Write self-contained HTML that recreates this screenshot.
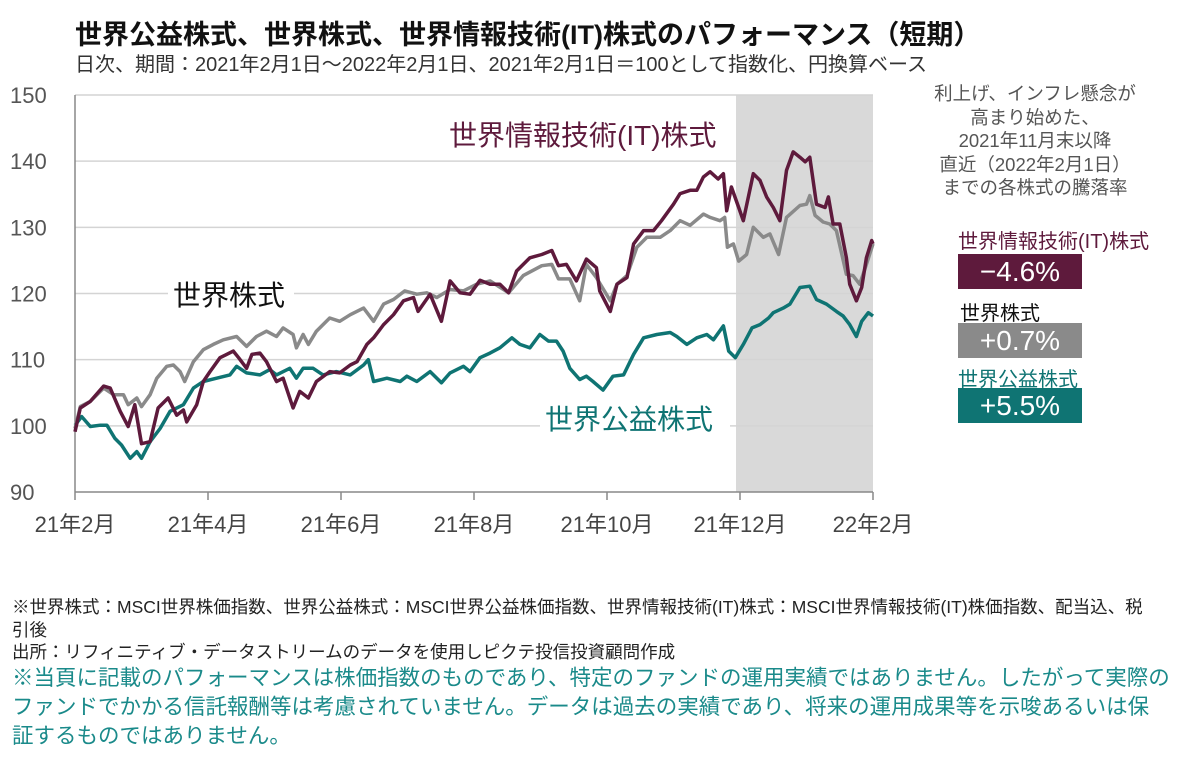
<!DOCTYPE html>
<html><head><meta charset="utf-8"><style>
body{margin:0;width:1200px;height:776px;background:#fff;overflow:hidden;font-family:"Liberation Sans","Noto Sans CJK JP",sans-serif;}
svg{position:absolute;left:0;top:0}
.t{position:absolute;white-space:nowrap}
</style></head><body>
<div class="t" style="left:75px;top:13px;font-size:27px;font-weight:bold;color:#111">世界公益株式、世界株式、世界情報技術(IT)株式のパフォーマンス（短期）</div>
<div class="t" style="left:75px;top:48px;font-size:20px;color:#333">日次、期間：2021年2月1日～2022年2月1日、2021年2月1日＝100として指数化、円換算ベース</div>
<svg id="chart" width="1200" height="776"></svg>
<div class="t" style="left:925px;top:82px;width:220px;text-align:center;font-size:18.5px;line-height:23.5px;color:#555">利上げ、インフレ懸念が<br>高まり始めた、<br>2021年11月末以降<br>直近（2022年2月1日）<br>までの各株式の騰落率</div>
<div class="t" style="left:958px;top:225px;font-size:20px;color:#5e1a3c">世界情報技術(IT)株式</div>
<div class="t" style="left:958px;top:254px;width:124px;height:35px;background:#5e1a3c;color:#fff;font-size:28px;line-height:35px;text-align:center">−4.6%</div>
<div class="t" style="left:960px;top:297px;font-size:20px;color:#111">世界株式</div>
<div class="t" style="left:958px;top:323px;width:124px;height:35px;background:#8a8a8a;color:#fff;font-size:28px;line-height:35px;text-align:center">+0.7%</div>
<div class="t" style="left:958px;top:363px;font-size:20px;color:#0f7473">世界公益株式</div>
<div class="t" style="left:958px;top:388px;width:124px;height:35px;background:#0f7473;color:#fff;font-size:28px;line-height:35px;text-align:center">+5.5%</div>
<div class="t" style="left:12px;top:596px;font-size:17.5px;line-height:22.5px;color:#222">※世界株式：MSCI世界株価指数、世界公益株式：MSCI世界公益株価指数、世界情報技術(IT)株式：MSCI世界情報技術(IT)株価指数、配当込、税<br>引後<br>出所：リフィニティブ・データストリームのデータを使用しピクテ投信投資顧問作成</div>
<div class="t" style="left:12px;top:664px;font-size:21.5px;line-height:29px;color:#1a8a8a">※当頁に記載のパフォーマンスは株価指数のものであり、特定のファンドの運用実績ではありません。したがって実際の<br>ファンドでかかる信託報酬等は考慮されていません。データは過去の実績であり、将来の運用成果等を示唆あるいは保<br>証するものではありません。</div>
<script>
const yTicks=[90,100,110,120,130,140,150];
const xTickLabels=["21年2月","21年4月","21年6月","21年8月","21年10月","21年12月","22年2月"];
const xTickMonths=[0,2,4,6,8,10,12];
const itT=[0,.08,.23,.43,.53,.68,.80,.90,1.00,1.13,1.25,1.40,1.53,1.63,1.68,1.83,1.93,2.03,2.18,2.28,2.38,2.46,2.58,2.66,2.78,2.88,3.03,3.13,3.28,3.38,3.51,3.63,3.83,3.98,4.14,4.24,4.39,4.49,4.64,4.79,4.94,5.09,5.16,5.34,5.51,5.64,5.79,5.94,6.09,6.24,6.39,6.52,6.64,6.84,7.02,7.17,7.27,7.39,7.54,7.69,7.84,7.89,8.05,8.15,8.30,8.40,8.55,8.70,8.82,9.00,9.10,9.25,9.35,9.45,9.55,9.67,9.75,9.80,9.87,9.98,10.05,10.20,10.30,10.40,10.50,10.60,10.70,10.80,10.90,10.98,11.05,11.15,11.28,11.33,11.40,11.50,11.60,11.65,11.75,11.83,11.90,11.98,12.00];
const itV=[99.1,102.7,103.7,106.0,105.7,102.2,99.9,103.2,97.3,97.6,102.7,104.2,101.6,102.4,100.6,103.2,106.7,108.2,110.3,110.8,111.3,110.3,108.7,110.8,111.0,109.7,106.7,107.2,102.7,105.2,104.2,106.7,108.2,108.0,109.2,109.7,112.3,113.3,115.3,116.8,118.9,119.4,117.3,119.9,115.8,121.9,120.1,119.9,122.0,121.4,121.4,120.1,123.4,125.4,125.9,126.5,124.2,124.4,121.9,125.2,123.9,120.4,117.3,121.4,122.4,127.5,129.5,129.5,131.0,133.5,135.1,135.6,135.6,137.6,138.4,137.3,138.1,132.5,136.1,133.0,131.0,138.1,137.1,134.6,133.0,131.0,138.6,141.4,140.6,139.9,140.6,133.5,133.0,134.6,130.5,130.5,125.4,121.4,118.9,120.9,125.4,128.0,127.5];
const worldT=[0,.08,.23,.43,.58,.73,.80,.93,1.00,1.13,1.23,1.38,1.48,1.58,1.65,1.78,1.93,2.08,2.23,2.43,2.58,2.73,2.88,3.03,3.13,3.28,3.33,3.43,3.51,3.63,3.83,3.98,4.14,4.34,4.49,4.64,4.79,4.96,5.14,5.29,5.44,5.64,5.84,6.04,6.24,6.52,6.74,7.02,7.17,7.27,7.44,7.59,7.69,7.84,8.05,8.15,8.30,8.45,8.60,8.80,8.95,9.10,9.25,9.45,9.55,9.70,9.77,9.81,9.90,9.98,10.10,10.20,10.35,10.45,10.58,10.70,10.90,11.00,11.05,11.13,11.25,11.35,11.45,11.60,11.70,11.80,11.90,12.00];
const worldV=[99.6,102.9,103.7,105.7,104.7,104.7,103.2,104.2,102.9,104.7,107.2,109.0,109.2,108.2,106.7,109.7,111.5,112.3,113.0,113.5,112.0,113.5,114.3,113.5,114.8,113.8,111.8,113.8,112.3,114.3,116.3,115.8,116.8,117.8,115.8,118.4,119.1,120.4,119.9,120.1,119.4,120.6,120.4,121.4,121.9,120.1,122.7,124.2,124.4,122.2,122.2,118.9,124.4,122.4,118.9,121.4,122.7,127.0,128.5,128.5,129.5,131.0,130.3,132.0,131.5,131.0,131.5,127.0,127.5,124.9,125.9,130.0,128.5,129.0,125.9,131.5,133.3,133.5,134.8,131.8,130.8,130.5,129.5,122.9,122.7,121.4,124.4,127.5];
const utilT=[0,.10,.23,.38,.48,.60,.70,.83,.93,1.00,1.13,1.28,1.43,1.63,1.78,1.93,2.13,2.33,2.43,2.58,2.78,2.93,3.03,3.23,3.33,3.43,3.58,3.73,3.93,4.14,4.34,4.41,4.49,4.69,4.89,4.99,5.14,5.34,5.51,5.64,5.84,5.94,6.09,6.24,6.39,6.57,6.69,6.84,6.99,7.12,7.24,7.34,7.44,7.59,7.69,7.79,7.94,8.09,8.25,8.40,8.55,8.75,8.95,9.05,9.20,9.35,9.50,9.60,9.75,9.83,9.93,10.05,10.18,10.30,10.43,10.50,10.65,10.75,10.90,11.05,11.15,11.30,11.45,11.55,11.65,11.75,11.83,11.93,12.00];
const utilV=[100.1,101.4,99.9,100.1,100.1,98.1,97.1,95.1,96.1,95.1,97.6,99.6,102.2,103.2,105.7,106.7,107.2,107.7,109.0,108.0,107.7,108.5,107.7,108.7,107.2,108.7,108.7,107.7,108.2,107.7,109.2,110.0,106.7,107.2,106.7,107.5,106.7,108.2,106.5,108.0,109.0,108.2,110.3,111.0,111.8,113.3,112.3,111.8,113.8,112.8,112.8,111.3,108.7,107.0,107.5,106.7,105.4,107.5,107.7,110.8,113.3,113.8,114.1,113.5,112.3,113.3,113.8,113.0,115.1,111.3,110.3,112.3,114.8,115.3,116.3,117.1,117.8,118.4,120.9,121.1,119.1,118.4,117.3,116.6,115.3,113.5,115.8,117.1,116.6];

const NS="http://www.w3.org/2000/svg";
const svg=document.getElementById('chart');
const X0=75,X1=873,Y0=492,Y1=95;
const xs=m=>X0+(X1-X0)*m/12;
const ys=v=>Y0-(Y0-Y1)*(v-90)/60;
function mk(tag,attrs){const e=document.createElementNS(NS,tag);for(const k in attrs)e.setAttribute(k,attrs[k]);svg.appendChild(e);return e;}
const sh=mk('rect',{x:xs(10)-4,y:Y1,width:xs(12)-xs(10)+4,height:Y0-Y1,fill:'#d9d9d9'});


yTicks.forEach(v=>{
  if(v>90){const g=mk('line',{x1:X0,x2:X1,y1:ys(v),y2:ys(v),stroke:'#d4d4d4','stroke-width':1.5});
  
  }
  const t=mk('text',{x:10,y:ys(v)+8,'font-size':22,fill:'#555','font-family':'Liberation Sans, sans-serif'});
  t.textContent=v;
  
  
});
const ax=mk('line',{x1:X0,x2:X1,y1:Y0,y2:Y0,stroke:'#888','stroke-width':1.5});


const ay=mk('line',{x1:X0,x2:X0,y1:Y1,y2:Y0,stroke:'#888','stroke-width':1.5});


xTickMonths.forEach((m,i)=>{
  const tk=mk('line',{x1:xs(m),x2:xs(m),y1:Y0,y2:Y0+8,stroke:'#888','stroke-width':1.5});
  
  
  const t=mk('text',{x:xs(m),y:Y0+40,'font-size':22,fill:'#444','text-anchor':'middle','font-family':'Liberation Sans, Noto Sans CJK JP, sans-serif'});
  t.textContent=xTickLabels[i];
  
  
});
function line(T,V,c,name){
  const d=T.map((m,i)=>(i?'L':'M')+xs(m).toFixed(1)+','+ys(V[i]).toFixed(1)).join('');
  const p=mk('path',{d:d,fill:'none',stroke:c,'stroke-width':3.5,'stroke-linejoin':'round'});
  
  
}
line(utilT,utilV,'#0f7473','utility-series');
line(worldT,worldV,'#8a8a8a','world-series');
line(itT,itV,'#5e1a3c','it-series');
function lbl(x,y,txt,c,name){
  const t=mk('text',{x:x,y:y,'font-size':28,fill:c,'font-family':'Liberation Sans, Noto Sans CJK JP, sans-serif'});
  t.textContent=txt;
  
  
}
mk('rect',{x:168,y:280,width:126,height:32,fill:'#fff'});
mk('rect',{x:540,y:404,width:190,height:32,fill:'#fff'});
lbl(173,305,'世界株式','#111','world-series-label');
lbl(449,145,'世界情報技術(IT)株式','#5e1a3c','it-series-label');
lbl(545,429,'世界公益株式','#0f7473','utility-series-label');
</script>
</body></html>
